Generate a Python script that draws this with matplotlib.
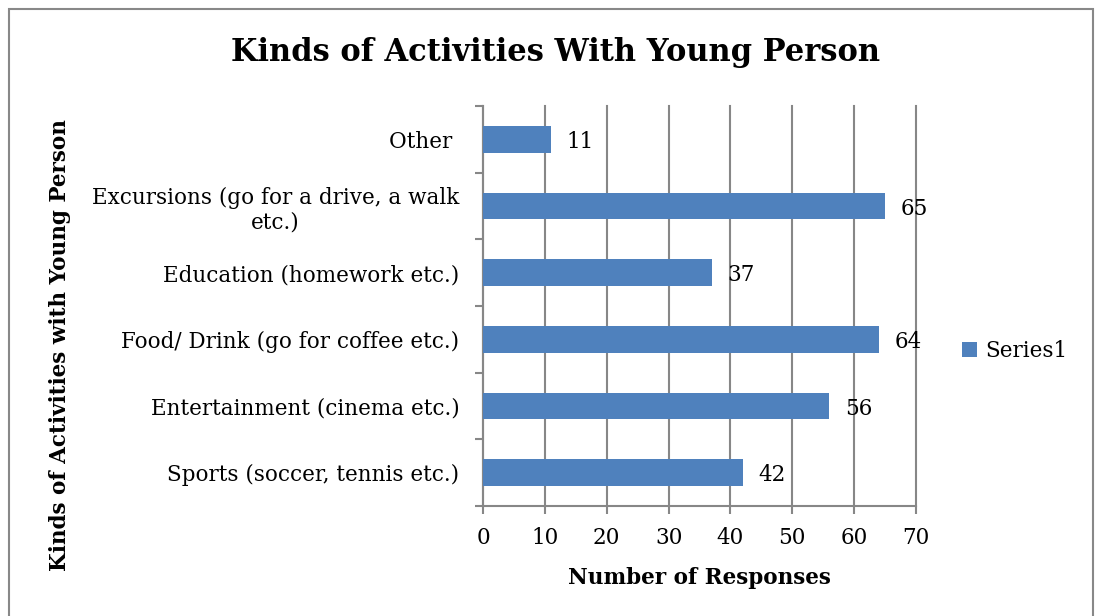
import matplotlib.pyplot as plt
from matplotlib.patches import Rectangle

categories = [
    "Sports (soccer, tennis etc.)",
    "Entertainment (cinema etc.)",
    "Food/ Drink (go for coffee etc.)",
    "Education (homework etc.)",
    "Excursions (go for a drive, a walk\netc.)",
    "Other ",
]
values = [42, 56, 64, 37, 65, 11]
x_ticks = [0, 10, 20, 30, 40, 50, 60, 70]

BAR = "#4f81bd"
GRID = "#878787"
plt.rcParams["font.family"] = ["DejaVu Serif"]

fig = plt.figure(figsize=(10.95, 6.16), dpi=100)
fig.patches.append(Rectangle((9 / 1095, -0.05), 1 - 11 / 1095, 1.05 - 9 / 616, transform=fig.transFigure,
                             fill=False, edgecolor="#888888", linewidth=1.5))
ax = fig.add_axes([483 / 1095, 1 - 506 / 616, 433 / 1095, 400 / 616])

ypos = list(range(len(categories)))
ax.barh(ypos, values, height=0.4, color=BAR, zorder=3, label="Series1")
for y, v in zip(ypos, values):
    ax.annotate(str(v), (v, y), xytext=(11, -2), textcoords="offset points",
                ha="left", va="center", fontsize=15.5)

ax.set_xlim(0, 70)
ax.set_ylim(-0.5, len(categories) - 0.5)
ax.set_xticks(x_ticks)
ax.set_yticks(ypos)
ax.set_yticklabels(categories, fontsize=15.5, multialignment="center")
ax.set_yticks([i - 0.5 for i in range(len(categories) + 1)], minor=True)
ax.tick_params(axis="y", which="major", length=0, pad=17)
ax.tick_params(axis="y", which="minor", length=6, color=GRID, width=1.5)
ax.tick_params(axis="x", length=6, color=GRID, width=1.5, labelsize=15.5, pad=9)
ax.grid(axis="x", color=GRID, linewidth=1.5, zorder=0)
for gl in ax.get_xgridlines():
    gl.set_clip_on(False)
for s in ("top", "right"):
    ax.spines[s].set_visible(False)
for s in ("left", "bottom"):
    ax.spines[s].set_color(GRID)
    ax.spines[s].set_linewidth(1.5)

ax.set_xlabel("Number of Responses", fontsize=15.5, fontweight="bold", labelpad=13)
fig.text(60 / 1095, 1 - 345 / 616, "Kinds of Activities with Young Person", rotation=90,
         ha="center", va="center", fontsize=15.5, fontweight="bold")
fig.text(556 / 1095, 1 - 53 / 616, "Kinds of Activities With Young Person",
         ha="center", va="center", fontsize=22, fontweight="bold")

ax.legend(loc="center left", bbox_to_anchor=(962 / 1095, 1 - 351 / 616), bbox_transform=fig.transFigure,
          frameon=False, fontsize=15.5, handlelength=0.7, handleheight=0.7, handletextpad=0.4,
          borderpad=0, borderaxespad=0)

fig.savefig("out.png", dpi=100)
